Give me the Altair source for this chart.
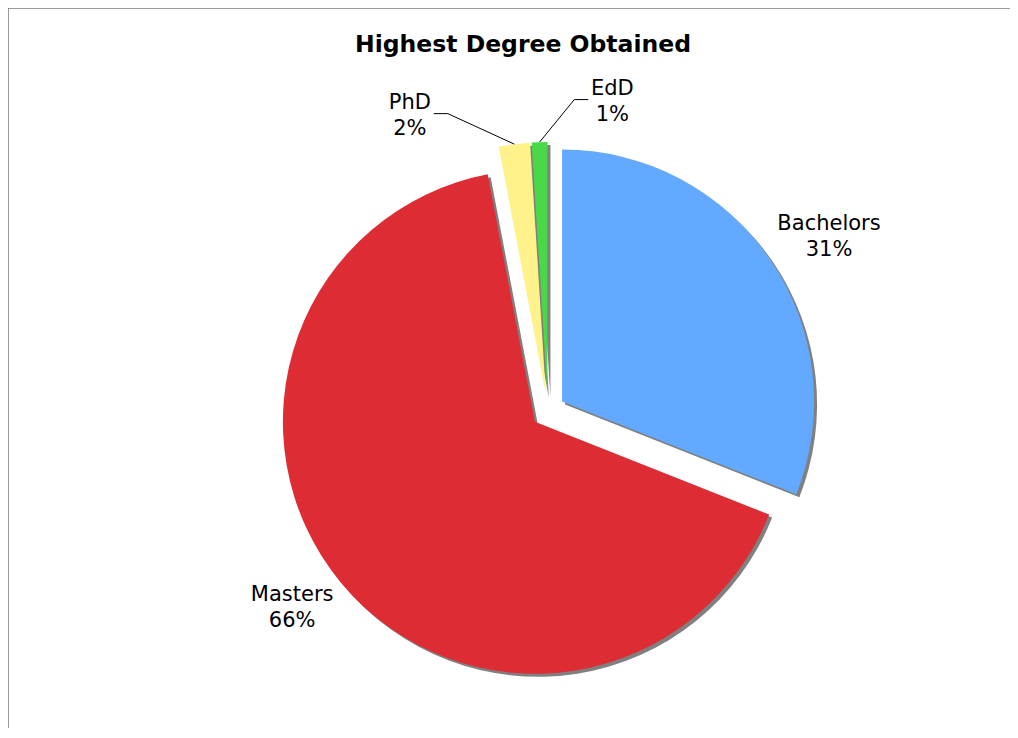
import math
import altair as alt
import pandas as pd

# ---- data ----
degrees = ["Bachelors", "Masters", "PhD", "EdD"]
values = [31, 66, 2, 1]
colors = ["#63A9FF", "#DD2C33", "#FFF28A", "#48D848"]
title_text = "Highest Degree Obtained"

# ---- layout constants (chart pixel coordinates) ----
W, H = 1002, 720
CX, CY = 540, 403          # pie centre
R = 252                    # pie radius
EXPLODE = 17               # radial offset of every slice
SHADOW = 3                 # shadow offset
label_shift = {"Bachelors": 2.3, "Masters": 2.2, "PhD": -17.8, "EdD": 13.5}  # degrees
label_r = {"Bachelors": 331, "Masters": 322, "PhD": 327, "EdD": 317}
leader_for = ["PhD", "EdD"]

total = sum(values)
rows = []
cum = 0
for d, v, c in zip(degrees, values, colors):
    start = cum / total
    cum += v
    end = cum / total
    mid = (start + end) / 2 * 2 * math.pi
    cx = CX + EXPLODE * math.sin(mid)
    cy = CY - EXPLODE * math.cos(mid)
    la = mid + math.radians(label_shift[d])
    lx = CX + label_r[d] * math.sin(la)
    ly = CY - label_r[d] * math.cos(la)
    pct = round(100 * v / total)
    rows.append(dict(degree=d, value=v, color=c, start=start, end=end,
                     cx=cx, cy=cy, sx=cx + SHADOW, sy=cy + SHADOW,
                     lx=lx, ly=ly, label=f"{d}\n{pct}%",
                     ex=cx + R * math.sin(mid), ey=cy - R * math.cos(mid)))
df = pd.DataFrame(rows)

# leader lines for the small slices
lines = []
for r in rows:
    if r["degree"] not in leader_for:
        continue
    sgn = 1 if r["ex"] > r["lx"] else -1
    x0 = r["lx"] + sgn * 24
    x1 = x0 + sgn * 14
    y0 = r["ly"] - 1
    lines += [dict(degree=r["degree"], o=0, x=x0, y=y0),
              dict(degree=r["degree"], o=1, x=x1, y=y0),
              dict(degree=r["degree"], o=2, x=r["ex"], y=r["ey"])]
ldf = pd.DataFrame(lines)

theta_scale = alt.Scale(domain=[0, 1], range=[0, 2 * math.pi])
color_scale = alt.Scale(domain=degrees, range=colors)

base = alt.Chart(df)

shadow = base.mark_arc(outerRadius=R, color="#808080").encode(
    theta=alt.Theta("start:Q", scale=theta_scale),
    theta2="end:Q",
    x=alt.X("sx:Q", scale=None, axis=None),
    y=alt.Y("sy:Q", scale=None, axis=None),
)

slices = base.mark_arc(outerRadius=R).encode(
    theta=alt.Theta("start:Q", scale=theta_scale),
    theta2="end:Q",
    x=alt.X("cx:Q", scale=None, axis=None),
    y=alt.Y("cy:Q", scale=None, axis=None),
    color=alt.Color("degree:N", scale=color_scale, legend=None),
)

labels = base.mark_text(font="DejaVu Sans", fontSize=21, lineHeight=26,
                        align="center", baseline="middle", color="black",
                        lineBreak="\n", dy=-12).encode(
    x=alt.X("lx:Q", scale=None, axis=None),
    y=alt.Y("ly:Q", scale=None, axis=None),
    text="label:N",
)

leaders = alt.Chart(ldf).mark_line(color="black", strokeWidth=1).encode(
    x=alt.X("x:Q", scale=None, axis=None),
    y=alt.Y("y:Q", scale=None, axis=None),
    detail="degree:N",
    order="o:Q",
)

title = alt.Chart(pd.DataFrame({"t": [title_text]})).mark_text(
    font="DejaVu Sans", fontSize=23.5, fontWeight="bold", align="center",
    baseline="alphabetic", color="black").encode(
    x=alt.value(515), y=alt.value(44), text="t:N")

top_border = alt.Chart(pd.DataFrame({"a": [0]})).mark_rule(
    color="#7a7a7a", strokeWidth=1.5).encode(
    x=alt.value(0), x2=alt.value(W), y=alt.value(0))
left_border = alt.Chart(pd.DataFrame({"a": [0]})).mark_rule(
    color="#7a7a7a", strokeWidth=1.5).encode(
    x=alt.value(0), y=alt.value(0), y2=alt.value(H))

chart = alt.layer(top_border, left_border, shadow, slices, leaders, labels, title).properties(
    width=W, height=H, autosize=alt.AutoSizeParams(type="none"), padding=0,
).configure_view(stroke=None).resolve_scale(x="independent", y="independent")

chart.save("out.html", embed_options={"renderer": "svg", "actions": False})
